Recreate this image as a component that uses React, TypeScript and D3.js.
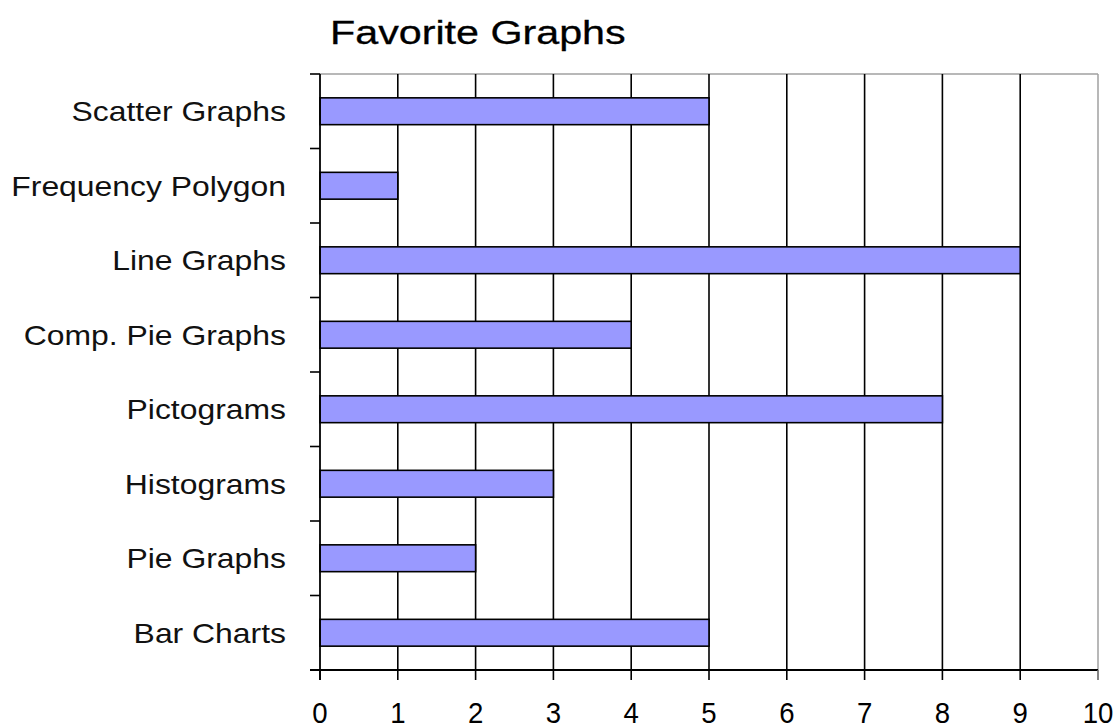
import React from "react";
import * as d3 from "d3";

const categories = [
  "Scatter Graphs",
  "Frequency Polygon",
  "Line Graphs",
  "Comp. Pie Graphs",
  "Pictograms",
  "Histograms",
  "Pie Graphs",
  "Bar Charts",
];
const values = [5, 1, 9, 4, 8, 3, 2, 5];
const xTicks = [0, 1, 2, 3, 4, 5, 6, 7, 8, 9, 10];
const title = "Favorite Graphs";

const W = 1119;
const H = 728;
const left = 320;
const right = 1098;
const top = 74;
const bottom = 670;
const font = "'Liberation Sans', Arial, Helvetica, sans-serif";

export default function App() {
  const x = d3.scaleLinear().domain([0, 10]).range([left, right]);
  const y = d3.scaleBand().domain(categories).range([top, bottom]).paddingInner(0.64).paddingOuter(0.32);
  const band = d3.scaleBand().domain(categories).range([top, bottom]);
  const bounds = d3.range(categories.length + 1).map((i) => top + (i * (bottom - top)) / categories.length);

  return (
    <svg width={W} height={H} style={{ position: "absolute", left: 0, top: 0, background: "#fff" }}>
      <rect x={0} y={0} width={W} height={H} fill="#fff" />
      {/* plot border */}
      <line x1={left} x2={right} y1={top} y2={top} stroke="#a0a0a0" strokeWidth={1.5} />
      <line x1={right} x2={right} y1={top} y2={bottom} stroke="#a0a0a0" strokeWidth={1.5} />
      {/* gridlines */}
      {xTicks.slice(1, -1).map((t) => (
        <line key={"g" + t} x1={x(t)} x2={x(t)} y1={top} y2={bottom} stroke="#000" strokeWidth={1.6} />
      ))}
      {/* bars */}
      {categories.map((c, i) => (
        <rect
          key={c}
          x={x(0)}
          y={y(c)}
          width={x(values[i]) - x(0)}
          height={y.bandwidth()}
          fill="#9999ff"
          stroke="#000"
          strokeWidth={1.6}
        />
      ))}
      {/* left axis */}
      <line x1={left} x2={left} y1={top} y2={bottom + 10} stroke="#000" strokeWidth={1.8} />
      {bounds.map((b, i) => (
        <line key={"lt" + i} x1={left - 10} x2={left} y1={b} y2={b} stroke="#000" strokeWidth={1.6} />
      ))}
      {/* bottom axis */}
      <line x1={left - 10} x2={right} y1={bottom} y2={bottom} stroke="#000" strokeWidth={1.8} />
      {xTicks.map((t) => (
        <line key={"bt" + t} x1={x(t)} x2={x(t)} y1={bottom} y2={bottom + 10} stroke={t === 10 ? "#666" : "#000"} strokeWidth={1.6} />
      ))}
      {/* x tick labels */}
      {xTicks.map((t) => (
        <text
          key={"xl" + t}
          transform={`translate(${x(t)},${bottom + 53}) scale(0.92,1)`}
          textAnchor="middle"
          fontFamily={font}
          fontSize={30}
          fill="#000"
        >
          {t}
        </text>
      ))}
      {/* category labels */}
      {categories.map((c) => (
        <text
          key={"cl" + c}
          transform={`translate(${left - 34},${(band(c) as number) + band.bandwidth() / 2 + 10}) scale(1.16,1)`}
          textAnchor="end"
          fontFamily={font}
          fontSize={27.5}
          fill="#111"
        >
          {c}
        </text>
      ))}
      {/* title */}
      <text
        transform={`translate(330,44) scale(1.25,1)`}
        fontFamily={font}
        fontSize={33}
        fill="#000"
        stroke="#000"
        strokeWidth={0.3}
      >
        {title}
      </text>
    </svg>
  );
}
